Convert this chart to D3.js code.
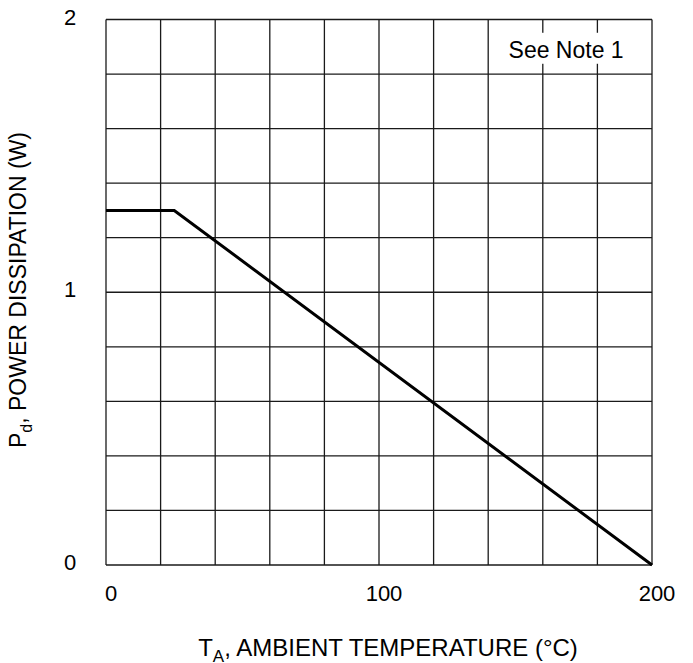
<!DOCTYPE html>
<html>
<head>
<meta charset="utf-8">
<script src="https://cdn.jsdelivr.net/npm/d3@7"></script>
<style>
  html, body { margin: 0; padding: 0; background: #fff; }
  svg { display: block; font-family: Arial, "Liberation Sans", sans-serif; }
</style>
</head>
<body>
<svg id="chart" width="693" height="663"></svg>
<script>
// derating curve
const temperature = [0, 25, 200];
const power = [1.3, 1.3, 0];

const xTickLabels = [0, 100, 200];
const yTickLabels = [0, 1, 2];
const xGrid = d3.range(0, 201, 20);
const yGrid = d3.range(0, 2.01, 0.2);

const svg = d3.select("#chart");
const margin = { top: 19.5, right: 41, bottom: 98, left: 106 };
const width = +svg.attr("width");
const height = +svg.attr("height");
const innerWidth = width - margin.left - margin.right;
const innerHeight = height - margin.top - margin.bottom;

const x = d3.scaleLinear().domain([0, 200]).range([0, innerWidth]);
const y = d3.scaleLinear().domain([0, 2]).range([innerHeight, 0]);

const chart = svg.append("g")
  .attr("transform", `translate(${margin.left}, ${margin.top})`);

// grid
chart.selectAll(".vgrid")
  .data(xGrid)
  .enter()
  .append("line")
  .attr("x1", d => x(d))
  .attr("x2", d => x(d))
  .attr("y1", 0)
  .attr("y2", innerHeight)
  .attr("stroke", "#1a1a1a")
  .attr("stroke-width", 1.3);

chart.selectAll(".hgrid")
  .data(yGrid)
  .enter()
  .append("line")
  .attr("x1", 0)
  .attr("x2", innerWidth)
  .attr("y1", d => y(d))
  .attr("y2", d => y(d))
  .attr("stroke", "#1a1a1a")
  .attr("stroke-width", 1.3);

// note box hides the grid behind it
const noteX = x(170) - 4;
chart.append("rect")
  .attr("x", noteX - 62)
  .attr("y", y(1.9) - 14)
  .attr("width", 124)
  .attr("height", 31)
  .attr("fill", "#fff");

chart.append("text")
  .attr("x", noteX)
  .attr("y", y(1.9) + 11)
  .attr("text-anchor", "middle")
  .attr("font-size", "23px")
  .attr("fill", "#000")
  .text("See Note 1");

// curve
const pts = temperature.map((t, i) => [t, power[i]]);
chart.append("path")
  .datum(pts)
  .attr("fill", "none")
  .attr("stroke", "#000")
  .attr("stroke-width", 3)
  .attr("d", d3.line().x(d => x(d[0])).y(d => y(d[1])));

// tick labels
chart.selectAll(".xlab")
  .data(xTickLabels)
  .enter()
  .append("text")
  .attr("x", d => x(d) + 5)
  .attr("y", innerHeight + 36)
  .attr("text-anchor", "middle")
  .attr("font-size", "22px")
  .text(d => d);

chart.selectAll(".ylab")
  .data(yTickLabels)
  .enter()
  .append("text")
  .attr("x", -36)
  .attr("y", d => y(d) + 5)
  .attr("text-anchor", "middle")
  .attr("font-size", "22px")
  .text(d => d);

// axis titles
const xTitle = svg.append("text")
  .attr("x", 388)
  .attr("y", 656)
  .attr("text-anchor", "middle")
  .attr("font-size", "24px");
xTitle.append("tspan").text("T");
xTitle.append("tspan").attr("font-size", "17px").attr("dy", 6).text("A");
xTitle.append("tspan").attr("dy", -6).text(", AMBIENT TEMPERATURE (°C)");

const yTitle = svg.append("text")
  .attr("transform", "translate(26, 290) rotate(-90)")
  .attr("text-anchor", "middle")
  .attr("font-size", "23px");
yTitle.append("tspan").text("P");
yTitle.append("tspan").attr("font-size", "16px").attr("dy", 6).text("d");
yTitle.append("tspan").attr("dy", -6).text(", POWER DISSIPATION (W)");
</script>
</body>
</html>
